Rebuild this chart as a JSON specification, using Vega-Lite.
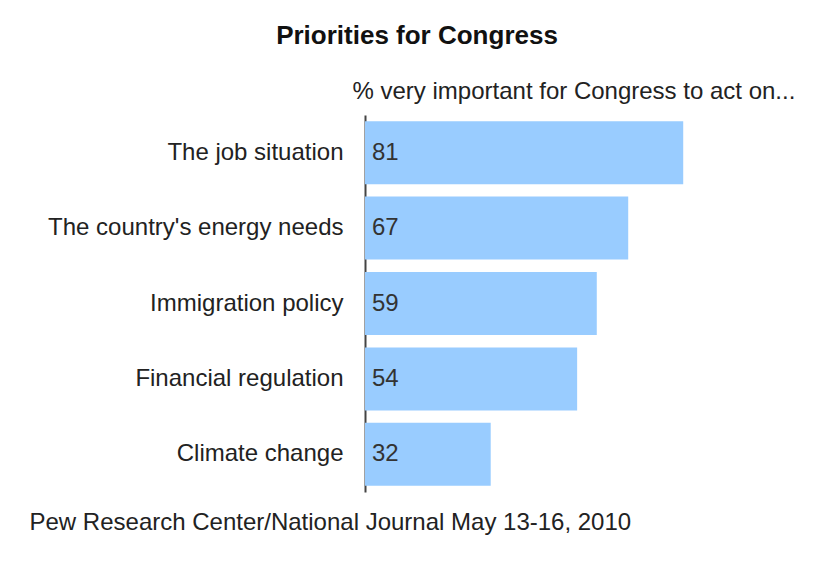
{
  "$schema": "https://vega.github.io/schema/vega-lite/v6.json",
  "autosize": "none",
  "width": 440,
  "height": 377,
  "padding": {"left": 365, "top": 115, "right": 15, "bottom": 74},
  "background": "white",
  "config": {
    "font": "Liberation Sans",
    "view": {"stroke": null}
  },
  "title": {
    "text": "Priorities for Congress",
    "font": "Liberation Sans",
    "fontSize": 26,
    "fontWeight": "bold",
    "color": "#111111",
    "anchor": "middle",
    "frame": "bounds",
    "offset": 30
  },
  "data": {
    "values": [
      {"issue": "The job situation", "pct": 81},
      {"issue": "The country's energy needs", "pct": 67},
      {"issue": "Immigration policy", "pct": 59},
      {"issue": "Financial regulation", "pct": 54},
      {"issue": "Climate change", "pct": 32}
    ]
  },
  "encoding": {
    "y": {
      "field": "issue",
      "type": "nominal",
      "sort": null,
      "scale": {"paddingInner": 0.165, "paddingOuter": 0.0825},
      "axis": {
        "title": null,
        "ticks": false,
        "labelPadding": 22,
        "labelFontSize": 24,
        "labelColor": "#222222",
        "labelFont": "Liberation Sans",
        "domainColor": "#444444",
        "domainWidth": 2,
        "labelLimit": 400
      }
    }
  },
  "layer": [
    {
      "mark": {"type": "bar", "color": "#99CCFF"},
      "encoding": {
        "x": {
          "field": "pct",
          "type": "quantitative",
          "scale": {"domain": [0, 112], "nice": false},
          "axis": {
            "orient": "top",
            "labels": false,
            "ticks": false,
            "domain": false,
            "grid": false,
            "title": "% very important for Congress to act on...",
            "titleFont": "Liberation Sans",
            "titleFontSize": 24,
            "titleFontWeight": "normal",
            "titleColor": "#222222",
            "titleAnchor": "start",
            "titleX": -13,
            "titlePadding": 12
          }
        }
      }
    },
    {
      "mark": {"type": "text", "align": "left", "dx": 7, "fontSize": 24, "color": "#333333", "font": "Liberation Sans"},
      "encoding": {
        "x": {
          "datum": 0,
          "type": "quantitative",
          "axis": {
            "orient": "bottom",
            "labels": false,
            "ticks": false,
            "domain": false,
            "grid": false,
            "title": "Pew Research Center/National Journal May 13-16, 2010",
            "titleFont": "Liberation Sans",
            "titleFontSize": 24,
            "titleFontWeight": "normal",
            "titleColor": "#222222",
            "titleAnchor": "start",
            "titleX": -336,
            "titlePadding": 18
          }
        },
        "text": {"field": "pct", "type": "quantitative"}
      }
    }
  ],
  "resolve": {"axis": {"x": "independent"}}
}
